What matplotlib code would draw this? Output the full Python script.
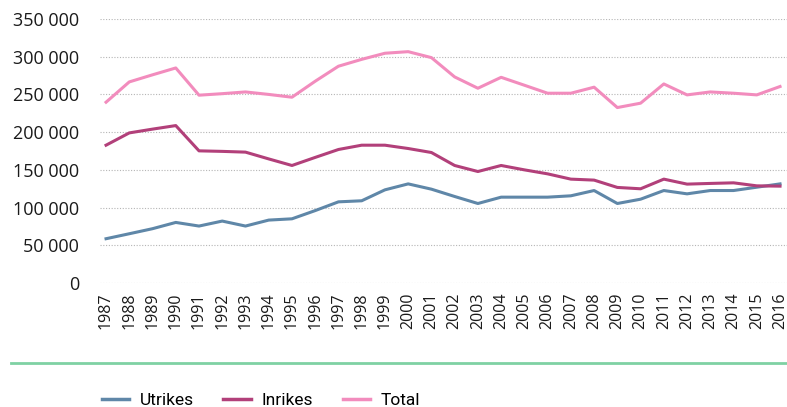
import matplotlib.pyplot as plt
from matplotlib.ticker import FuncFormatter
from matplotlib.lines import Line2D

# Data
years = list(range(1987, 2017))

utrikes = [58700, 65300, 72000, 80300, 75500, 82100, 75500, 83400, 85100, 96000,
           107600, 109000, 123500, 131400, 124400, 114700, 105400, 113800, 113800, 113800,
           115600, 122600, 105400, 111100, 122600, 118200, 122600, 122600, 127000, 131400]

inrikes = [182700, 199000, 204000, 208700, 175200, 174500, 173500, 164500, 155800, 166500,
           177000, 182700, 182700, 178300, 173000, 155800, 147800, 155800, 150000, 144700,
           137700, 136400, 126700, 124900, 137700, 131100, 132000, 132800, 128800, 128400]

total = [239700, 266600, 276000, 285100, 249000, 251000, 253300, 250000, 246300, 267500,
         287400, 296500, 304600, 306700, 298800, 273200, 258200, 272700, 262200, 251600,
         251600, 259600, 232600, 238400, 263900, 249400, 253300, 251600, 249400, 260500]

series_names = ['Utrikes', 'Inrikes', 'Total']
colors = ['#5f87a8', '#b2407a', '#f28cbd']
yticks = [0, 50000, 100000, 150000, 200000, 250000, 300000, 350000]

plt.rcParams['font.family'] = ['Open Sans', 'DejaVu Sans']

fig = plt.figure(figsize=(7.87, 4.07), dpi=100)
ax = fig.add_axes([100 / 787, 124 / 407, 687 / 787, 264 / 407])

for vals, name, c in zip([utrikes, inrikes, total], series_names, colors):
    ax.plot(years, vals, color=c, linewidth=2.2, label=name)

ax.set_xlim(1986.74, 2016.3)
ax.set_ylim(0, 350000)
ax.set_yticks(yticks)
ax.yaxis.set_major_formatter(FuncFormatter(lambda v, p: f'{int(v):,}'.replace(',', ' ')))
ax.set_xticks(years)
ax.set_xticklabels([str(y) for y in years], rotation=90)

ax.grid(axis='y', color='#b5b5b5', linestyle=(0, (1, 1.5)), linewidth=0.8)
ax.set_axisbelow(True)
for s in ax.spines.values():
    s.set_visible(False)
ax.tick_params(length=0, colors='#1a1a1a')
ax.tick_params(axis='y', pad=15, labelsize=13)
ax.tick_params(axis='x', pad=7, labelsize=11.5)

# green divider line
fig.add_artist(Line2D([11 / 787, 1.0], [1 - 363 / 407, 1 - 363 / 407],
                      color='#7fd1a3', linewidth=2, transform=fig.transFigure))

handles = [Line2D([0], [0], color=c, linewidth=2.5) for c in colors]
fig.legend(handles, series_names, loc='center left', bbox_to_anchor=(86 / 787, 1 - 400 / 407),
           ncol=3, frameon=False, handlelength=1.6, handletextpad=0.6, columnspacing=1.7,
           prop={'family': ['Roboto'], 'size': 12.5})

fig.savefig('out.png', dpi=100)
